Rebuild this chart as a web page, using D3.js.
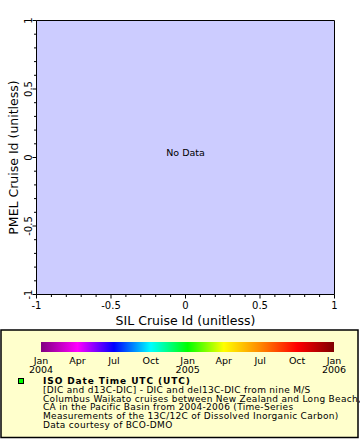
<!DOCTYPE html>
<html><head><meta charset="utf-8">
<script src="https://cdn.jsdelivr.net/npm/d3@7"></script>
<style>body{margin:0;background:#fff}svg{display:block;font-family:"DejaVu Sans",sans-serif}</style>
</head><body><svg id="c" width="360" height="440"></svg>
<script>
const xDomain = [-1, 1];
const yDomain = [-1, 1];
const majorTicks = [-1, -0.5, 0, 0.5, 1];
const majorLabels = ["-1", "-0.5", "0", "0.5", "1"];
const minorTicks = [-0.9,-0.8,-0.7,-0.6,-0.4,-0.3,-0.2,-0.1,0.1,0.2,0.3,0.4,0.6,0.7,0.8,0.9];
const xTitle = "SIL Cruise Id (unitless)";
const yTitle = "PMEL Cruise Id (unitless)";
const noDataText = "No Data";
const cbStart = "2004-01-01", cbEnd = "2006-01-01";
const cbTickDates = ["2004-01-01","2004-04-01","2004-07-01","2004-10-01","2005-01-01","2005-04-01","2005-07-01","2005-10-01","2006-01-01"];
const cbTickMonth = ["Jan","Apr","Jul","Oct","Jan","Apr","Jul","Oct","Jan"];
const cbTickYear = ["2004","","","","2005","","","","2006"];
const cbColors = ["#800080","#ff00ff","#0000ff","#00ffff","#00ff00","#ffff00","#ff8800","#ff0000","#800000"];
const legendTitle = "ISO Date Time UTC (UTC)";
const legendLines = [
 "[DIC and d13C-DIC] - DIC and del13C-DIC from nine M/S",
 "Columbus Waikato cruises between New Zealand and Long Beach,",
 "CA in the Pacific Basin from 2004-2006 (Time-Series",
 "Measurements of the 13C/12C of Dissolved Inorganic Carbon)",
 "Data courtesy of BCO-DMO"
];

const svg = d3.select("#c");
const L = 36.5, R = 334.5, T = 20.5, B = 294.5;
const x = d3.scaleLinear().domain(xDomain).range([L, R]);
const y = d3.scaleLinear().domain(yDomain).range([B, T]);

svg.append("rect").attr("x", L).attr("y", T).attr("width", R-L).attr("height", B-T).attr("fill", "#ccccff");

// x axis
const gx = svg.append("g").attr("transform", `translate(0,${B})`);
gx.append("line").attr("x1", L).attr("x2", R).attr("stroke","#000");
gx.selectAll("line.mj").data(majorTicks).join("line").attr("class","mj")
  .attr("x1", d=>x(d)).attr("x2", d=>x(d)).attr("y1",0).attr("y2",4).attr("stroke","#000");
gx.selectAll("line.mn").data(minorTicks).join("line").attr("class","mn")
  .attr("x1", d=>x(d)).attr("x2", d=>x(d)).attr("y1",0).attr("y2",2.5).attr("stroke","#000");
gx.selectAll("text").data(majorTicks).join("text")
  .attr("x", d=>x(d)).attr("y", 14).attr("text-anchor","middle").attr("font-size",10)
  .text((d,i)=>majorLabels[i]);

// y axis
const gy = svg.append("g").attr("transform", `translate(${L},0)`);
gy.append("line").attr("y1", T).attr("y2", B).attr("stroke","#000");
gy.selectAll("line.mj").data(majorTicks).join("line").attr("class","mj")
  .attr("y1", d=>y(d)).attr("y2", d=>y(d)).attr("x1",0).attr("x2",-4).attr("stroke","#000");
gy.selectAll("line.mn").data(minorTicks).join("line").attr("class","mn")
  .attr("y1", d=>y(d)).attr("y2", d=>y(d)).attr("x1",0).attr("x2",-2.5).attr("stroke","#000");
gy.selectAll("text").data(majorTicks).join("text")
  .attr("transform", d=>`translate(-5,${y(d)}) rotate(-90)`).attr("text-anchor","middle")
  .attr("font-size",10).text((d,i)=>majorLabels[i]);

// top/right border
svg.append("line").attr("x1",L).attr("x2",R).attr("y1",T).attr("y2",T).attr("stroke","#000");
svg.append("line").attr("x1",R).attr("x2",R).attr("y1",T).attr("y2",B).attr("stroke","#000");

svg.append("text").attr("x",(L+R)/2).attr("y",325).attr("text-anchor","middle").attr("font-size",12.5).text(xTitle);
svg.append("text").attr("transform",`translate(18,${(T+B)/2}) rotate(-90)`).attr("text-anchor","middle").attr("font-size",12.5).text(yTitle);

svg.append("text").attr("x",(L+R)/2).attr("y",156).attr("text-anchor","middle").attr("font-size",9.5).text(noDataText);

// legend box
svg.append("rect").attr("x",1).attr("y",330).attr("width",357).attr("height",107.5)
  .attr("fill","#ffffcc").attr("stroke","#000").attr("stroke-width",1.5);

// colorbar
const parse = d3.timeParse("%Y-%m-%d");
const cx = d3.scaleTime().domain([parse(cbStart), parse(cbEnd)]).range([41, 334]);
const grad = svg.append("defs").append("linearGradient").attr("id","cb");
grad.selectAll("stop").data(cbColors).join("stop")
  .attr("offset",(d,i)=>(cx(parse(cbTickDates[i]))-41)/(334-41)).attr("stop-color",d=>d);
svg.append("rect").attr("x",41).attr("y",342).attr("width",293).attr("height",10).attr("fill","url(#cb)");
const gcb = svg.append("g");
gcb.selectAll("text.m").data(cbTickDates).join("text").attr("class","m")
  .attr("x",d=>cx(parse(d))).attr("y",363.5).attr("text-anchor","middle").attr("font-size",9.5)
  .text((d,i)=>cbTickMonth[i]);
gcb.selectAll("text.yr").data(cbTickDates).join("text").attr("class","yr")
  .attr("x",d=>cx(parse(d))).attr("y",373).attr("text-anchor","middle").attr("font-size",9.5)
  .text((d,i)=>cbTickYear[i]);

// legend entry
svg.append("rect").attr("x",18.5).attr("y",378.5).attr("width",5).attr("height",5).attr("fill","#00ff00").attr("stroke","#000");
svg.append("text").attr("x",43).attr("y",384).attr("font-size",9).attr("font-weight","bold")
  .attr("letter-spacing",0.9).text(legendTitle);
svg.selectAll("text.lg").data(legendLines).join("text").attr("class","lg")
  .attr("x",43).attr("y",(d,i)=>392.7+i*8.8).attr("font-size",9).attr("letter-spacing",0.3).text(d=>d);
</script></body></html>
